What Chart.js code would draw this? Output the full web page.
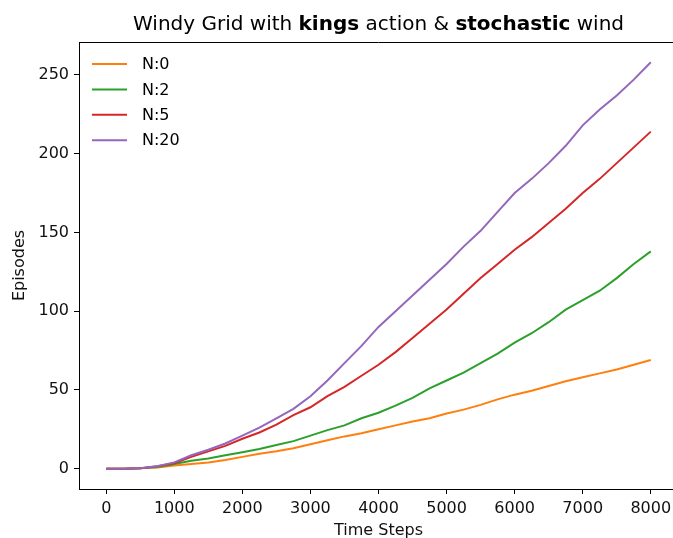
<!DOCTYPE html>
<html>
<head>
<meta charset="utf-8">
<script src="https://cdn.jsdelivr.net/npm/chart.js@4"></script>
<style>
    html, body { margin: 0; padding: 0; background: #fff; overflow: hidden; }
    #wrap { width: 690px; height: 538px; position: relative; }
</style>
</head>
<body>
<div id="wrap"><canvas id="chart"></canvas></div>
<script>
// Time steps sampled every 250
const timeSteps = [0, 250, 500, 750, 1000, 1250, 1500, 1750, 2000, 2250, 2500, 2750, 3000, 3250, 3500, 3750,
    4000, 4250, 4500, 4750, 5000, 5250, 5500, 5750, 6000, 6250, 6500, 6750, 7000, 7250, 7500, 7750, 8000];

const seriesLabels = ['N:0', 'N:2', 'N:5', 'N:20'];
const seriesColors = ['#ff7f0e', '#2ca02c', '#d62728', '#9467bd'];

const episodesN0 = [0, 0, 0.2, 0.8, 2, 3, 4, 5.5, 7.5, 9.5, 11, 13, 15.5, 18, 20.5, 22.5,
    25, 27.5, 30, 32, 35, 37.5, 40.5, 44, 47, 49.5, 52.5, 55.5, 58, 60.5, 63, 66, 69];
const episodesN2 = [0, 0, 0.3, 1, 3, 5, 6.5, 8.5, 10.5, 12.5, 15, 17.5, 21, 24.5, 27.5, 32,
    35.5, 40, 45, 51, 56, 61, 67, 73, 80, 86, 93, 101, 107, 113, 121, 130, 138];
const episodesN5 = [0, 0, 0.3, 1.5, 3.5, 7.5, 11, 14.5, 19, 23, 28, 34, 39, 46, 52, 59,
    66, 74, 83, 92, 101, 111, 121, 130, 139, 147, 156, 165, 175, 184, 194, 204, 214];
const episodesN20 = [0, 0, 0.3, 1.5, 4, 8.5, 12, 16, 21, 26, 32, 38, 46, 56, 67, 78,
    90, 100, 110, 120, 130, 141, 151, 163, 175, 184, 194, 205, 218, 228, 237, 247, 258];

const xTicks = [0, 1000, 2000, 3000, 4000, 5000, 6000, 7000, 8000];
const yTicks = [0, 50, 100, 150, 200, 250];

const titleParts = [
    { text: 'Windy Grid with ', bold: false },
    { text: 'kings', bold: true },
    { text: ' action & ', bold: false },
    { text: 'stochastic', bold: true },
    { text: ' wind', bold: false }
];

const FONT = '"DejaVu Sans", sans-serif';
const allSeries = [episodesN0, episodesN2, episodesN5, episodesN20];

const datasets = allSeries.map((vals, i) => ({
    label: seriesLabels[i],
    data: timeSteps.map((t, j) => ({ x: t, y: vals[j] })),
    borderColor: seriesColors[i],
    borderWidth: 2,
    pointRadius: 0,
    tension: 0,
    fill: false,
    order: allSeries.length - i
}));

// Title with bold words, top spine and in-axes legend
const decor = {
    id: 'decor',
    afterDraw(chart) {
        const { ctx, chartArea } = chart;
        ctx.save();

        // top spine (right one falls outside the window)
        ctx.strokeStyle = '#000';
        ctx.lineWidth = 1;
        ctx.beginPath();
        ctx.moveTo(chartArea.left, chartArea.top + 0.5);
        ctx.lineTo(chartArea.right, chartArea.top + 0.5);
        ctx.stroke();

        // title
        const size = 20;
        ctx.fillStyle = '#000';
        ctx.textBaseline = 'alphabetic';
        let total = 0;
        titleParts.forEach(p => {
            ctx.font = `${p.bold ? 'bold ' : ''}${size}px ${FONT}`;
            total += ctx.measureText(p.text).width;
        });
        let x = (chartArea.left + chartArea.right) / 2 - total / 2;
        titleParts.forEach(p => {
            ctx.font = `${p.bold ? 'bold ' : ''}${size}px ${FONT}`;
            ctx.fillText(p.text, x, 30);
            x += ctx.measureText(p.text).width;
        });

        // legend
        ctx.font = `16px ${FONT}`;
        ctx.textBaseline = 'middle';
        ctx.textAlign = 'left';
        seriesLabels.forEach((lbl, i) => {
            const y = 64 + i * 25.4;
            ctx.strokeStyle = seriesColors[i];
            ctx.lineWidth = 2;
            ctx.beginPath();
            ctx.moveTo(92, y);
            ctx.lineTo(127, y);
            ctx.stroke();
            ctx.fillStyle = '#000';
            ctx.fillText(lbl, 142, y + 1);
        });
        ctx.restore();
    }
};

new Chart(document.getElementById('chart'), {
    type: 'line',
    data: { datasets },
    options: {
        responsive: true,
        maintainAspectRatio: false,
        devicePixelRatio: 1,
        animation: false,
        layout: { padding: { top: 42, right: 12, left: 0, bottom: 0 } },
        plugins: {
            legend: { display: false },
            title: { display: false },
            tooltip: { enabled: false }
        },
        scales: {
            x: {
                type: 'linear',
                min: -400,
                max: 8400,
                afterBuildTicks: s => { s.ticks = xTicks.map(v => ({ value: v })); },
                afterFit: s => { s.height = 49; },
                grid: { drawOnChartArea: false, drawTicks: true, tickLength: 5, color: '#000' },
                border: { display: true, color: '#000', width: 1 },
                ticks: { color: '#111', font: { family: FONT, size: 16 }, padding: 5, maxRotation: 0, callback: v => String(v) },
                title: { display: true, text: 'Time Steps', color: '#111', font: { family: FONT, size: 16 }, padding: { top: 0, bottom: -2 } }
            },
            y: {
                type: 'linear',
                min: -12.9,
                max: 270.9,
                afterBuildTicks: s => { s.ticks = yTicks.map(v => ({ value: v })); },
                afterFit: s => { s.width = 79; },
                grid: { drawOnChartArea: false, drawTicks: true, tickLength: 5, color: '#000' },
                border: { display: true, color: '#000', width: 1 },
                ticks: { color: '#111', font: { family: FONT, size: 16 }, padding: 5, callback: v => String(v) },
                title: { display: true, text: 'Episodes', color: '#111', font: { family: FONT, size: 16 }, padding: { top: 10, bottom: 0 } }
            }
        }
    },
    plugins: [decor]
});
</script>
</body>
</html>
